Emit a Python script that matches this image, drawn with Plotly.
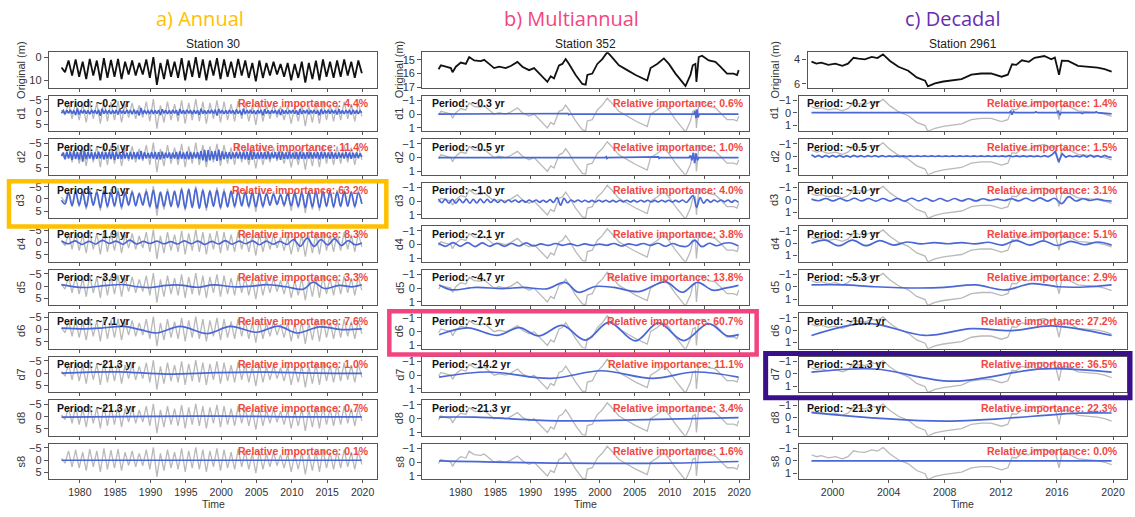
import numpy as np
import plotly.graph_objects as go

W, H = 1135, 517

# ====================== Station 30 (a) ======================
a_span = (1977.4, 2019.9)
a_orig = [4.5, 6.5, 1.5, 8.0, 1.0, 8.5, 2.0, 9.5, 0.8, 8.0,
          1.5, 10.0, 0.5, 9.0, 1.2, 8.5, 0.8, 9.5, 2.0, 7.5,
          1.5, 8.0, 2.5, 7.5, 1.0, 9.0, 0.0, 12.0, 2.5, 9.5,
          1.0, 8.5, 2.0, 9.0, 0.5, 10.0, 1.5, 8.5, 0.0, 9.0,
          1.0, 10.0, 1.5, 8.0, 0.5, 9.5, 1.0, 8.5, 2.0, 9.0,
          0.8, 8.0, 1.5, 9.0, 2.5, 10.5, 1.5, 9.0, 2.5, 8.0,
          2.0, 7.5, 3.0, 8.5, 2.5, 10.0, 3.0, 9.0, 2.0, 11.0,
          2.5, 9.5, 1.5, 10.0, 1.0, 8.5, 2.0, 9.0, 1.5, 8.5,
          1.0, 8.0, 2.0, 9.0, 1.5, 7.0]
a_d1 = [0.5, -0.6, 0.8, -0.7, 0.6, -0.9, 0.7, -0.6, 1.2, -1.4, 1.0, -0.7, 0.6, -0.8, 0.7, -0.6, 0.9, -0.8, 0.6, -0.7,
        0.8, -0.9, 1.5, -1.3, 0.7, -0.6, 0.5, -0.7, 0.8, -0.6, 0.7, -0.8, 1.0, -1.2, 0.6, -0.5, 0.7, -0.8, 0.6, -0.7,
        0.9, -1.0, 0.7, -0.6, 1.4, -1.6, 0.8, -0.7, 0.6, -0.5, 0.7, -0.9, 0.8, -0.6, 0.7, -0.8, 1.2, -1.1, 0.6, -0.7,
        0.8, -0.6, 0.7, -0.8, 0.6, -0.7, 1.3, -1.2, 0.7, -0.6, 0.8, -0.9, 0.6, -0.7, 0.9, -0.8, 0.7, -0.6, 1.1, -1.3,
        0.7, -0.6, 0.8, -0.7, 0.6, -0.8, 0.7, -0.9, 1.4, -1.2, 0.6, -0.7, 0.8, -0.6, 0.7, -0.8, 0.6, -0.7, 0.9, -1.0,
        0.7, -0.6, 1.2, -1.3, 0.8, -0.7, 0.6, -0.8, 0.7, -0.6, 0.9, -0.7, 0.6, -0.8, 1.3, -1.1, 0.7, -0.6, 0.8, -0.7,
        0.6, -0.7, 0.8, -0.9, 1.2, -1.0, 0.7, -0.6, 0.8, -0.7, 0.6, -0.8, 0.7, -0.6, 1.1, -1.2, 0.8, -0.7, 0.6, -0.8,
        0.9, -0.7, 0.6, -0.8, 0.7, -0.6, 1.3, -1.1, 0.8, -0.7, 0.6, -0.8, 0.7, -0.9, 0.6, -0.7, 1.0, -1.1, 0.7, -0.6,
        0.8, -0.7, 0.6, -0.8, 1.0, -0.9, 0.7, -0.6, 0.8, -0.5, 0.3]
a_d2 = [0.3, -1.2, 1.5, -1.4, 1.2, -1.6, 1.8, -2.0, 1.4, -1.3, 1.6, -2.2, 2.5, -2.0, 1.5, -1.4, 1.2, -1.3, 1.5, -1.2,
        1.3, -1.5, 1.2, -1.4, 1.6, -1.3, 1.2, -1.5, 1.4, -1.6, 1.8, -1.5, 1.3, -1.2, 1.4, -1.5, 1.2, -1.1, 1.3, -1.4,
        1.5, -1.3, 1.2, -1.4, 1.6, -1.8, 1.5, -1.3, 1.2, -1.0, 1.1, -1.3, 1.2, -1.4, 1.5, -1.3, 1.6, -1.5, 1.2, -1.1,
        1.0, -1.2, 1.3, -1.1, 1.2, -1.4, 1.5, -1.6, 1.3, -1.2, 1.4, -1.5, 1.6, -1.4, 1.3, -1.2, 1.1, -1.3, 1.5, -1.8,
        2.0, -2.3, 2.5, -2.2, 2.0, -1.8, 1.6, -1.9, 2.2, -2.4, 2.0, -1.7, 1.5, -1.4, 1.2, -1.3, 1.4, -1.2, 1.1, -1.3,
        1.2, -1.4, 1.3, -1.5, 1.6, -1.4, 1.8, -2.0, 1.7, -1.5, 1.3, -1.2, 1.4, -1.3, 1.2, -1.4, 1.5, -1.6, 1.4, -1.2,
        1.1, -1.3, 1.4, -1.6, 1.8, -1.5, 1.3, -1.2, 1.4, -1.3, 1.2, -1.1, 1.3, -1.4, 1.6, -1.5, 1.3, -1.2, 1.4, -1.3,
        1.2, -1.4, 1.3, -1.2, 1.1, -1.3, 1.5, -1.4, 1.2, -1.3, 1.1, -1.2, 1.3, -1.4, 1.2, -1.1, 1.3, -1.2, 1.0, -1.1,
        1.2, -1.3, 1.1, -1.2, 1.3, -1.1, 1.0, -1.2, 1.1, -0.9, 0.6]
a_d3 = [0.5, 2.0, -2.5, 2.8, -3.0, 2.5, -2.8, 3.2, -3.0, 2.5,
        -2.8, 3.5, -3.2, 3.0, -2.5, 2.8, -3.0, 3.2, -2.5, 2.5,
        -2.8, 2.8, -2.2, 2.5, -3.0, 3.0, -3.5, 3.8, -2.8, 3.0,
        -3.0, 3.0, -3.2, 3.2, -3.8, 3.8, -4.0, 3.5, -4.2, 3.8,
        -3.5, 3.5, -3.2, 3.0, -3.5, 3.5, -3.0, 3.2, -3.2, 3.0,
        -3.0, 2.8, -2.8, 3.0, -2.8, 3.2, -2.5, 3.0, -2.2, 2.5,
        -2.0, 2.2, -1.8, 2.5, -2.2, 2.8, -2.5, 3.0, -2.8, 3.5,
        -3.0, 3.2, -3.2, 3.5, -3.0, 3.0, -3.2, 3.2, -2.8, 3.0,
        -3.0, 3.0, -2.8, 3.0, -2.5, 2.0]
a_d4 = [-0.6, 0.5, -0.7, 0.8, -0.5, 0.6, -0.9, 0.4, -0.6, 0.7,
        -1.0, 0.6, -0.5, 0.4, -0.6, 0.5, -0.4, 0.6, -0.7, 0.5,
        -0.6, 0.8, -0.5, 0.6, -0.8, 0.7, -0.6, 0.5, -0.7, 0.9,
        -0.6, 0.7, -0.5, 0.8, -1.2, 1.5, -1.8, 1.6, -1.2, 1.0,
        -1.5, 1.2, -0.8, 0.9, 0.2]
a_d5_t = [1977.4, 1980.6, 1983.9, 1986.2, 1988.1, 1990.0, 1992.3, 1994.2, 1996.6, 1998.9,
          2001.7, 2004.5, 2006.4, 2009.2, 2011.6, 2013.0, 2014.6, 2016.7, 2018.6, 2019.9]
a_d5 = [-0.6, 0.6, -0.3, -0.6, 0.3, 0.6, -0.3, -0.4, 0.5, -0.5,
        0.3, 0.0, -0.6, 0.3, 1.3, -1.6, 1.0, -0.3, 0.3, -0.5]
a_d6_t = [1977.4, 1980.5, 1983.0, 1986.2, 1988.5, 1990.9, 1994.2, 1998.0, 2001.3, 2005.0,
          2008.1, 2010.7, 2013.9, 2017.0, 2019.9]
a_d6 = [-0.6, -0.3, -0.6, -1.3, 0.0, 1.4, -1.3, 1.6, -1.3, 1.1, -1.4, 1.4, -1.1, 0.0, -0.3]
a_d7_t = [1977.4, 1985.3, 1992.3, 1999.4, 2006.4, 2013.4, 2019.9]
a_d7 = [0.0, -0.5, 0.4, -0.2, -0.4, 0.0, 0.1]
a_d8_t = [1977.4, 1990.0, 2000.0, 2010.0, 2019.9]
a_d8 = [0.2, -0.1, -0.2, 0.1, 0.1]
a_s8_t = [1977.4, 2019.9]
a_s8 = [0.05, 0.05]
a_period = ["~0.2 yr", "~0.5 yr", "~1.0 yr", "~1.9 yr", "~3.9 yr", "~7.1 yr", "~21.3 yr", "~21.3 yr", None]
a_importance = ["4.4%", "11.4%", "63.2%", "8.3%", "3.3%", "7.6%", "1.0%", "0.7%", "0.1%"]

# ====================== Station 352 (b) ======================
b_span = (1976.8, 2019.9)
b_orig_t = [1976.82, 1977.16, 1977.87, 1978.59, 1978.83, 1979.31, 1980.02, 1980.74, 1981.22, 1981.94,
            1982.89, 1983.37, 1984.08, 1984.80, 1985.52, 1986.47, 1987.19, 1988.15, 1988.86, 1989.82,
            1990.54, 1991.26, 1992.45, 1992.93, 1993.40, 1994.12, 1994.60, 1995.08, 1995.56, 1996.51,
            1997.47, 1997.95, 1998.19, 1998.90, 1999.62, 2000.34, 2001.05, 2001.53, 2002.73, 2003.92,
            2005.12, 2006.79, 2007.27, 2008.22, 2009.18, 2009.90, 2010.85, 2011.81, 2012.29, 2013.00,
            2013.33, 2013.71, 2013.86, 2014.19, 2014.67, 2015.63, 2016.58, 2017.30, 2018.25, 2019.21,
            2019.69, 2019.93]
b_orig = [15.68, 15.40, 15.50, 15.60, 15.90, 15.50, 15.20, 15.30, 14.80, 15.05,
          15.10, 15.00, 15.30, 15.60, 15.50, 15.60, 15.45, 15.15, 15.50, 15.75,
          15.60, 16.00, 16.60, 16.20, 16.35, 15.40, 15.30, 14.95, 15.30, 16.10,
          16.75, 16.80, 16.10, 16.00, 15.30, 14.95, 14.45, 14.70, 15.40, 15.75,
          16.10, 16.50, 15.60, 15.30, 14.90, 15.30, 16.00, 16.60, 16.90, 16.10,
          15.40, 15.30, 16.60, 14.80, 14.70, 15.05, 15.15, 15.50, 16.00, 16.00,
          16.10, 15.75]
b_d1_t = [1976.8, 1995.3, 1995.4, 1995.5, 1995.6, 2013.5, 2013.65, 2013.8, 2013.95, 2014.1, 2014.25, 2019.9]
b_d1 = [0.0, 0.0, -0.04, 0.04, 0.0, 0.0, -0.2, 0.3, -0.35, 0.25, 0.0, 0.0]
b_d2_t = [1976.8, 2000.8, 2000.9, 2001.0, 2001.1, 2008.3, 2008.4, 2008.5, 2008.6, 2012.8,
          2013.0, 2013.2, 2013.4, 2013.6, 2013.8, 2014.0, 2014.2, 2019.9]
b_d2 = [0.0, 0.0, -0.06, 0.06, 0.0, 0.0, -0.05, 0.05, 0.0, 0.0,
        -0.15, 0.2, -0.35, 0.4, -0.3, 0.2, 0.0, 0.0]
b_d3 = [-0.15, 0.12, -0.15, 0.15, -0.12, 0.15, -0.15, 0.12, -0.14, 0.15,
        -0.12, 0.13, -0.15, 0.12, -0.12, 0.1, -0.12, 0.1, -0.08, 0.1,
        -0.08, 0.06, -0.08, 0.08, -0.06, 0.08, -0.08, 0.06, -0.08, 0.08,
        -0.06, 0.08, -0.1, 0.1, -0.25, 0.3, -0.2, 0.12, -0.08, 0.06,
        -0.08, 0.06, -0.06, 0.06, -0.05, 0.06, -0.06, 0.05, -0.06, 0.06,
        -0.05, 0.06, -0.06, 0.05, -0.06, 0.06, -0.05, 0.06, -0.06, 0.05,
        -0.06, 0.06, -0.05, 0.06, -0.06, 0.05, -0.06, 0.06, -0.05, 0.06,
        -0.08, 0.1, -0.15, -0.4, 0.45, -0.25, 0.15, -0.1, 0.08, -0.08,
        0.06, -0.08, 0.06, -0.08, 0.08, -0.06, 0.1]
b_d4 = [-0.12, 0.12, -0.15, 0.12, -0.15, 0.14, -0.12, 0.12, -0.1, 0.12,
        -0.08, 0.1, -0.12, 0.1, -0.05, 0.06, -0.08, 0.05, -0.06, 0.08,
        -0.05, 0.06, -0.04, 0.05, -0.08, 0.1, -0.06, 0.05, -0.08, 0.06,
        -0.1, 0.12, -0.08, 0.1, 0.12, -0.32, 0.15, -0.1, 0.08, -0.1,
        -0.12, 0.1]
b_d5_t = [1976.9, 1978.6, 1982.2, 1986.0, 1989.0, 1992.3, 1995.0, 1996.9, 1999.3, 2002.0,
          2005.6, 2009.4, 2011.8, 2014.0, 2016.2, 2018.0, 2019.9]
b_d5 = [-0.22, 0.12, -0.05, 0.03, -0.05, 0.05, -0.42, 0.3, -0.12, -0.05,
        0.25, -0.45, 0.3, -0.42, 0.15, 0.0, -0.2]
b_d6_t = [1976.9, 1981.0, 1985.3, 1988.4, 1991.2, 1994.6, 1997.9, 2001.3, 2005.1, 2008.4,
          2012.0, 2015.6, 2018.3, 2019.9]
b_d6 = [0.22, -0.28, 0.27, -0.29, 0.31, -0.45, 0.61, -0.67, 0.67, -0.63, 0.65, -0.58, 0.31, 0.22]
b_d7_t = [1976.9, 1983.9, 1993.0, 2000.2, 2007.5, 2013.7, 2019.9]
b_d7 = [0.14, -0.23, 0.23, -0.32, 0.23, -0.23, 0.14]
b_d8_t = [1976.9, 1982.0, 1994.5, 2005.0, 2019.9]
b_d8 = [-0.11, -0.11, 0.16, 0.08, -0.07]
b_s8_t = [1976.9, 1995.0, 2010.0, 2019.9]
b_s8 = [-0.09, 0.07, 0.07, -0.05]
b_period = ["~0.3 yr", "~0.5 yr", "~1.0 yr", "~2.1 yr", "~4.7 yr", "~7.1 yr", "~14.2 yr", "~21.3 yr", None]
b_importance = ["0.6%", "1.0%", "4.0%", "3.8%", "13.8%", "60.7%", "11.1%", "3.4%", "1.6%"]

# ====================== Station 2961 (c) ======================
c_span = (1998.5, 2019.9)
c_orig_t = [1998.5, 1998.85, 1999.2, 1999.7, 2000.2, 2000.7, 2001.1, 2001.5, 2001.85, 2002.3,
            2002.8, 2003.2, 2003.6, 2004.1, 2004.7, 2005.4, 2006.0, 2006.6, 2006.8, 2007.3,
            2007.9, 2008.5, 2009.2, 2009.9, 2010.6, 2011.3, 2012.05, 2012.5, 2012.8, 2013.1,
            2013.5, 2014.0, 2014.4, 2015.1, 2015.6, 2015.85, 2016.15, 2016.35, 2016.8, 2017.5,
            2018.2, 2018.9, 2019.4, 2019.9]
c_orig = [4.19, 4.35, 4.27, 4.45, 4.35, 4.53, 4.35, 3.87, 3.95, 4.0,
          3.8, 3.9, 3.6, 4.13, 4.6, 4.93, 5.47, 5.73, 6.2, 5.95,
          5.8, 5.68, 5.6, 5.25, 5.15, 5.15, 5.41, 5.25, 4.4, 4.45,
          4.08, 4.2, 3.87, 3.73, 4.0, 3.85, 5.25, 4.1, 4.13, 4.53,
          4.6, 4.67, 4.8, 4.99]
c_d1_t = [1998.5, 2012.6, 2012.7, 2012.8, 2012.9, 2013.0, 2014.4, 2014.5, 2014.6, 2016.0,
          2016.1, 2016.2, 2016.3, 2017.7, 2017.8, 2017.9, 2018.7, 2018.8, 2018.9, 2019.7, 2019.9]
c_d1 = [0.0, 0.0, -0.1, 0.15, -0.1, 0.0, 0.0, -0.07, 0.0, 0.0,
        -0.15, 0.2, 0.0, 0.0, 0.07, 0.0, 0.0, -0.08, 0.0, 0.05, 0.1]
c_d2 = [-0.12, 0.06, -0.07, 0.08, -0.06, 0.07, -0.07, 0.06, -0.06, 0.07,
        -0.05, 0.06, -0.06, 0.05, -0.05, 0.06, -0.05, 0.04, -0.05, 0.05,
        -0.04, 0.04, -0.03, 0.03, -0.03, 0.03, -0.02, 0.03, -0.02, 0.02,
        -0.02, 0.02, -0.02, 0.02, -0.02, 0.02, -0.02, 0.02, -0.02, 0.02,
        -0.02, 0.02, -0.02, 0.02, -0.02, 0.02, -0.02, 0.02, -0.02, 0.02,
        -0.02, 0.02, -0.02, 0.02, -0.03, 0.03, -0.04, 0.04, -0.03, 0.03,
        -0.03, 0.03, -0.02, 0.03, -0.03, 0.04, -0.05, 0.05, -0.1, -0.38,
        0.46, -0.2, 0.08, -0.05, 0.04, -0.03, 0.05, -0.06, 0.07, -0.08,
        0.06, -0.05, 0.07, -0.06, 0.05, 0.1]
c_d3 = [-0.05, 0.08, -0.1, 0.1, -0.1, 0.1, -0.12, 0.1, -0.1, 0.12,
        -0.1, 0.12, -0.1, 0.12, -0.12, 0.1, -0.12, 0.12, -0.1, 0.12,
        -0.1, 0.1, -0.08, 0.1, -0.08, 0.06, -0.05, 0.06, -0.08, 0.1,
        -0.12, 0.1, -0.15, 0.12, -0.12, 0.32, -0.25, 0.1, -0.08, 0.06,
        -0.05, 0.06, 0.12]
c_d4 = [0.0, -0.25, 0.2, -0.25, 0.2, -0.22, 0.15, -0.1, 0.05, -0.05, 0.04, -0.05,
        0.05, -0.08, 0.15, -0.22, 0.15, -0.2, 0.18, -0.15, 0.12, -0.1, 0.15]
c_d5_t = [1998.5, 2000.8, 2003.0, 2006.1, 2008.0, 2010.2, 2012.3, 2014.2, 2016.1, 2018.0, 2019.9]
c_d5 = [-0.15, -0.15, 0.0, 0.1, 0.05, -0.15, 0.26, -0.26, 0.0, 0.02, -0.15]
c_d6_t = [1998.5, 2002.5, 2006.6, 2009.9, 2012.8, 2015.6, 2019.9]
c_d6 = [0.42, -0.57, 0.42, -0.13, 0.03, -0.36, 0.42]
c_d7_t = [1998.5, 2003.0, 2008.5, 2015.0, 2019.9]
c_d7 = [-0.13, -0.39, 0.6, -0.4, -0.13]
c_d8_t = [1998.5, 2008.0, 2017.5, 2019.9]
c_d8 = [-0.38, 0.31, -0.34, -0.35]
c_s8_t = [1998.5, 2019.9]
c_s8 = [0.0, 0.0]
c_period = ["~0.2 yr", "~0.5 yr", "~1.0 yr", "~1.9 yr", "~5.3 yr", "~10.7 yr", "~21.3 yr", "~21.3 yr", None]
c_importance = ["1.4%", "1.5%", "3.1%", "5.1%", "2.9%", "27.2%", "36.5%", "22.3%", "0.0%"]

row_labels = ["Original (m)", "d1", "d2", "d3", "d4", "d5", "d6", "d7", "d8", "s8"]


def grid(span, vals):
    return list(np.linspace(span[0], span[1], len(vals)))


columns = [
    dict(title="a) Annual", title_color="#FFC000", station="Station 30",
         orig_t=grid(a_span, a_orig), orig=a_orig,
         comps=[(grid(a_span, a_d1), a_d1, "linear"), (grid(a_span, a_d2), a_d2, "linear"),
                (grid(a_span, a_d3), a_d3, "spline"), (grid(a_span, a_d4), a_d4, "spline"),
                (a_d5_t, a_d5, "spline"), (a_d6_t, a_d6, "spline"), (a_d7_t, a_d7, "spline"),
                (a_d8_t, a_d8, "spline"), (a_s8_t, a_s8, "linear")],
         period=a_period, imp=a_importance,
         left=49, left0=49, right=378, yr0=1980, px0=80, ppy=7.08,
         xticks=list(range(1980, 2021, 5)),
         orig_range=[13.2, -2.1], orig_ticks=[0, 10], d_range=[7.8, -6.6], d_ticks=[-5, 0, 5],
         ylab_x=21, per_dx=6, imp_dx=6, title_x=200),
    dict(title="b) Multiannual", title_color="#F2457F", station="Station 352",
         orig_t=b_orig_t, orig=b_orig,
         comps=[(b_d1_t, b_d1, "linear"), (b_d2_t, b_d2, "linear"),
                (grid(b_span, b_d3), b_d3, "spline"), (grid(b_span, b_d4), b_d4, "spline"),
                (b_d5_t, b_d5, "spline"), (b_d6_t, b_d6, "spline"), (b_d7_t, b_d7, "spline"),
                (b_d8_t, b_d8, "spline"), (b_s8_t, b_s8, "spline")],
         period=b_period, imp=b_importance,
         left=423, left0=423, right=750, yr0=1980, px0=461.5, ppy=6.975,
         xticks=list(range(1980, 2021, 5)),
         orig_range=[17.02, 14.45], orig_ticks=[15, 16, 17], d_range=[1.24, -1.33], d_ticks=[-1, 0, 1],
         ylab_x=400, per_dx=8, imp_dx=3, title_x=573),
    dict(title="c) Decadal", title_color="#6A2DB0", station="Station 2961",
         orig_t=c_orig_t, orig=c_orig,
         comps=[(c_d1_t, c_d1, "linear"), (grid(c_span, c_d2), c_d2, "linear"),
                (grid(c_span, c_d3), c_d3, "spline"), (grid(c_span, c_d4), c_d4, "spline"),
                (c_d5_t, c_d5, "spline"), (c_d6_t, c_d6, "spline"), (c_d7_t, c_d7, "spline"),
                (c_d8_t, c_d8, "spline"), (c_s8_t, c_s8, "linear")],
         period=c_period, imp=c_importance,
         left=800, left0=809, right=1129, yr0=2000, px0=834, ppy=14.05,
         xticks=list(range(2000, 2021, 4)),
         orig_range=[6.3, 3.42], orig_ticks=[4, 6], d_range=[1.5, -1.38], d_ticks=[-1, 0, 1],
         ylab_x=776, per_dx=6, imp_dx=7, title_x=955),
]

ROW_TOP0, ROW_STEP, ROW_H = 51.0, 44.2, 36.0
FONT = "Liberation Sans, Arial, sans-serif"
BLUE = "#4A67D6"
GREY = "#B9B9B9"
RED = "#F0483E"
FRAME = "#555555"


def px(x):
    return x / W


def py(y):
    return 1 - y / H


fig = go.Figure()
layout = {}
annotations = []
n = 0
for col in columns:
    o_t = np.array(col["orig_t"], dtype=float)
    o_v = np.array(col["orig"], dtype=float)
    o_mean = np.trapezoid(o_v, o_t) / (o_t[-1] - o_t[0])
    anom = o_v - o_mean
    for r in range(10):
        n += 1
        xa = "x" if n == 1 else f"x{n}"
        ya = "y" if n == 1 else f"y{n}"
        top = ROW_TOP0 + r * ROW_STEP
        bot = top + ROW_H
        left = col["left0"] if r == 0 else col["left"]
        right = col["right"]
        xr = [col["yr0"] + (left - col["px0"]) / col["ppy"],
              col["yr0"] + (right - col["px0"]) / col["ppy"]]
        last = (r == 9)
        layout[f"xaxis{n if n > 1 else ''}"] = dict(
            domain=[px(left), px(right)], anchor=ya, range=xr,
            tickvals=col["xticks"], showticklabels=last, ticks="outside", ticklen=3,
            tickcolor=FRAME, tickwidth=1, showline=True, mirror=True, linecolor=FRAME,
            linewidth=1.3, showgrid=False, zeroline=False,
            tickfont=dict(family=FONT, size=10.5, color="#333"))
        yrng = col["orig_range"] if r == 0 else col["d_range"]
        ytk = col["orig_ticks"] if r == 0 else col["d_ticks"]
        layout[f"yaxis{n if n > 1 else ''}"] = dict(
            domain=[py(bot), py(top)], anchor=xa, range=yrng, tickvals=ytk,
            ticks="outside", ticklen=4, tickcolor=FRAME, tickwidth=1,
            showline=True, mirror=True, linecolor=FRAME, linewidth=1.3,
            showgrid=False, zeroline=False,
            tickfont=dict(family=FONT, size=11, color="#333"))
        if r == 0:
            fig.add_trace(go.Scatter(x=o_t, y=o_v, mode="lines", xaxis=xa, yaxis=ya,
                                     line=dict(color="#111111", width=1.8), hoverinfo="skip"))
        else:
            t, v, shape = col["comps"][r - 1]
            fig.add_trace(go.Scatter(x=o_t, y=anom, mode="lines", xaxis=xa, yaxis=ya,
                                     line=dict(color=GREY, width=1.3), hoverinfo="skip"))
            fig.add_trace(go.Scatter(x=t, y=v, mode="lines", xaxis=xa, yaxis=ya,
                                     line=dict(color=BLUE, width=1.7, shape=shape), hoverinfo="skip"))
            per = col["period"][r - 1]
            if per:
                annotations.append(dict(x=px(left + col["per_dx"]), y=py(top + 7.5), xref="paper", yref="paper",
                                        text=f"<b>Period: {per}</b>", showarrow=False, xanchor="left",
                                        yanchor="middle", font=dict(family=FONT, size=10.5, color="#111")))
            annotations.append(dict(x=px(right - col["imp_dx"]), y=py(top + 7.5), xref="paper", yref="paper",
                                    text=f"<b>Relative importance: {col['imp'][r - 1]}</b>", showarrow=False,
                                    xanchor="right", yanchor="middle",
                                    font=dict(family=FONT, size=10.5, color=RED)))
        # row label
        annotations.append(dict(x=px(col["ylab_x"]), y=py((top + bot) / 2), xref="paper", yref="paper",
                                text=row_labels[r], textangle=-90, showarrow=False,
                                xanchor="center", yanchor="middle",
                                font=dict(family=FONT, size=11, color="#333")))
    cx = (col["left"] + col["right"]) / 2
    annotations.append(dict(x=px(cx), y=py(43), xref="paper", yref="paper", text=col["station"],
                            showarrow=False, xanchor="center", yanchor="middle",
                            font=dict(family=FONT, size=12, color="#222")))
    annotations.append(dict(x=px(cx), y=py(518), xref="paper", yref="paper", text="Time",
                            showarrow=False, xanchor="center", yanchor="bottom",
                            font=dict(family=FONT, size=10.5, color="#333")))
    annotations.append(dict(x=px(col["title_x"]), y=py(17), xref="paper", yref="paper", text=col["title"],
                            showarrow=False, xanchor="center", yanchor="middle",
                            font=dict(family="Open Sans, sans-serif", size=20, color=col["title_color"])))

shapes = [
    dict(type="rect", xref="paper", yref="paper", x0=px(9), x1=px(387), y0=py(228), y1=py(182),
         line=dict(color="#FFC000", width=4.5), layer="above"),
    dict(type="rect", xref="paper", yref="paper", x0=px(390), x1=px(758), y0=py(358), y1=py(314),
         line=dict(color="#F2457F", width=4.5), layer="above"),
    dict(type="rect", xref="paper", yref="paper", x0=px(767), x1=px(1132), y0=py(402), y1=py(357),
         line=dict(color="#3A108A", width=5), layer="above"),
]

fig.update_layout(width=W, height=H, margin=dict(l=0, r=0, t=0, b=0),
                  paper_bgcolor="white", plot_bgcolor="white", showlegend=False,
                  annotations=annotations, shapes=shapes, **layout)
fig.write_html("out.html")
